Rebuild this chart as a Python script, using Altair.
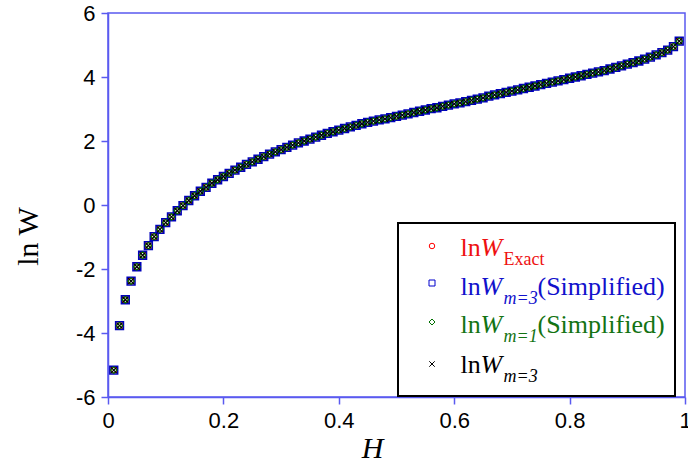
import altair as alt
import pandas as pd

# x grid (H): 0.01 ... 0.99
H = [0.01, 0.02, 0.03, 0.04, 0.05, 0.06, 0.07, 0.08, 0.09, 0.10,
     0.11, 0.12, 0.13, 0.14, 0.15, 0.16, 0.17, 0.18, 0.19, 0.20,
     0.21, 0.22, 0.23, 0.24, 0.25, 0.26, 0.27, 0.28, 0.29, 0.30,
     0.31, 0.32, 0.33, 0.34, 0.35, 0.36, 0.37, 0.38, 0.39, 0.40,
     0.41, 0.42, 0.43, 0.44, 0.45, 0.46, 0.47, 0.48, 0.49, 0.50,
     0.51, 0.52, 0.53, 0.54, 0.55, 0.56, 0.57, 0.58, 0.59, 0.60,
     0.61, 0.62, 0.63, 0.64, 0.65, 0.66, 0.67, 0.68, 0.69, 0.70,
     0.71, 0.72, 0.73, 0.74, 0.75, 0.76, 0.77, 0.78, 0.79, 0.80,
     0.81, 0.82, 0.83, 0.84, 0.85, 0.86, 0.87, 0.88, 0.89, 0.90,
     0.91, 0.92, 0.93, 0.94, 0.95, 0.96, 0.97, 0.98, 0.99]

ln_w_exact = [-5.16, -3.77, -2.96, -2.38, -1.93, -1.57, -1.27, -0.99, -0.76, -0.55,
              -0.37, -0.18, -0.02, 0.14, 0.29, 0.43, 0.55, 0.68, 0.79, 0.89,
              0.99, 1.09, 1.18, 1.27, 1.35, 1.43, 1.51, 1.59, 1.66, 1.73,
              1.80, 1.87, 1.94, 2.00, 2.06, 2.12, 2.18, 2.24, 2.29, 2.34,
              2.39, 2.44, 2.49, 2.54, 2.58, 2.62, 2.66, 2.69, 2.73, 2.77,
              2.81, 2.85, 2.89, 2.93, 2.97, 3.01, 3.04, 3.08, 3.12, 3.16,
              3.19, 3.23, 3.27, 3.31, 3.35, 3.40, 3.44, 3.48, 3.52, 3.56,
              3.60, 3.64, 3.68, 3.72, 3.76, 3.80, 3.84, 3.88, 3.92, 3.96,
              4.00, 4.04, 4.08, 4.12, 4.16, 4.20, 4.25, 4.30, 4.35, 4.40,
              4.45, 4.50, 4.56, 4.62, 4.69, 4.76, 4.84, 4.95, 5.12]
# the other three series coincide with the exact one at this resolution
ln_w_m3_simplified = list(ln_w_exact)
ln_w_m1_simplified = list(ln_w_exact)
ln_w_m3 = list(ln_w_exact)

x_ticks = [0, 0.2, 0.4, 0.6, 0.8, 1]
y_ticks = [-6, -4, -2, 0, 2, 4, 6]

df = pd.DataFrame({"H": H, "exact": ln_w_exact, "m3s": ln_w_m3_simplified,
                   "m1s": ln_w_m1_simplified, "m3": ln_w_m3})

AX = "#5a5af0"
RED, BLUE, GREEN, BLACK = "#ee1111", "#1111cc", "#137313", "#000000"
XSHAPE = "M-1,-1L1,1M-1,1L1,-1"
SERIF = "Liberation Serif, Times New Roman, serif"
SANS = "Liberation Sans, Arial, sans-serif"

xenc = alt.X("H:Q", scale=alt.Scale(domain=[0, 1], nice=False, zero=False),
             axis=alt.Axis(values=x_ticks, title="H", labelExpr="toString(datum.value)",
                           titleFontStyle="italic", titleX=264, titleY=60,
                           titleAlign="center", titleBaseline="alphabetic"))
def yenc(col):
    return alt.Y(f"{col}:Q", scale=alt.Scale(domain=[-6, 6], nice=False, zero=False),
                 axis=alt.Axis(values=y_ticks, title="ln W", labelExpr="toString(datum.value)",
                               titleX=-71, titleY=223, titleAngle=270,
                               titleAlign="center", titleBaseline="alphabetic"))

base = alt.Chart(df)
p_exact = base.mark_point(shape="circle", filled=False, color="#ff0000", size=36,
                          strokeWidth=1.2, opacity=1).encode(x=xenc, y=yenc("exact"))
p_m3s = base.mark_point(shape="square", filled=False, color="#0000bb", size=60,
                        strokeWidth=1.6, opacity=1).encode(x=xenc, y=yenc("m3s"))
p_m1s = base.mark_point(shape="diamond", filled=False, color="#007000", size=44,
                        strokeWidth=1.2, opacity=1).encode(x=xenc, y=yenc("m1s"))
p_m3 = base.mark_point(shape=XSHAPE, filled=False, color="#000000", size=36,
                       strokeWidth=1.2, opacity=1).encode(x=xenc, y=yenc("m3"))

one = pd.DataFrame({"a": [1]})
leg = [alt.Chart(one).mark_rect(fill="white", stroke="black", strokeWidth=2).encode(
    x=alt.value(290), x2=alt.value(567), y=alt.value(210), y2=alt.value(383))]

def txt(t, x, y, color, size, italic=False):
    return alt.Chart(one).mark_text(text=t, font=SERIF, fontSize=size,
                                    fontStyle="italic" if italic else "normal",
                                    color=color, align="left", baseline="alphabetic").encode(
        x=alt.value(x), y=alt.value(y))

def sym(shape, color, size, sw, y):
    return alt.Chart(one).mark_point(shape=shape, filled=False, color=color, size=size,
                                     strokeWidth=sw, opacity=1).encode(
        x=alt.value(324), y=alt.value(y))

rows = [
    ("circle", "#ff0000", 30, 1.0, RED, "Exact", False, ""),
    ("square", "#0000cc", 36, 1.0, BLUE, "m=3", True, "(Simplified)"),
    ("diamond", "#007000", 36, 1.0, GREEN, "m=1", True, "(Simplified)"),
    (XSHAPE, "#000000", 30, 1.0, BLACK, "m=3", True, ""),
]
baselines = [243, 281.5, 320, 360]
sym_y = [233, 270, 309, 351]
for (shape, mcol, msz, msw, tcol, sub, sub_it, suffix), b, sy in zip(rows, baselines, sym_y):
    leg.append(sym(shape, mcol, msz, msw, sy))
    leg.append(txt("ln", 352.5, b, tcol, 26))
    leg.append(txt("W", 372.5, b, tcol, 26, italic=True))
    leg.append(txt(sub, 395.5, b + 9, tcol, 18, italic=sub_it))
    if suffix:
        leg.append(txt(suffix, 429.5, b, tcol, 26))

chart = alt.layer(p_exact, p_m3s, p_m1s, p_m3, *leg).properties(
    width=577, height=384,
    padding={"left": 108, "top": 13, "right": 3, "bottom": 69},
    autosize=alt.AutoSizeParams(type="none"),
).configure_view(stroke=AX, strokeWidth=1.5).configure_axis(
    domainColor=AX, domainWidth=1.5, tickColor=AX, tickWidth=1.5, tickSize=7,
    labelFont=SANS, labelFontSize=22, labelColor="black", labelPadding=6,
    titleFont=SERIF, titleFontSize=30, titleFontWeight="normal", titleColor="black",
    grid=False, labelFlush=False, labelOverlap=False,
)

chart.save("out.html", embed_options={"renderer": "svg", "actions": False})
